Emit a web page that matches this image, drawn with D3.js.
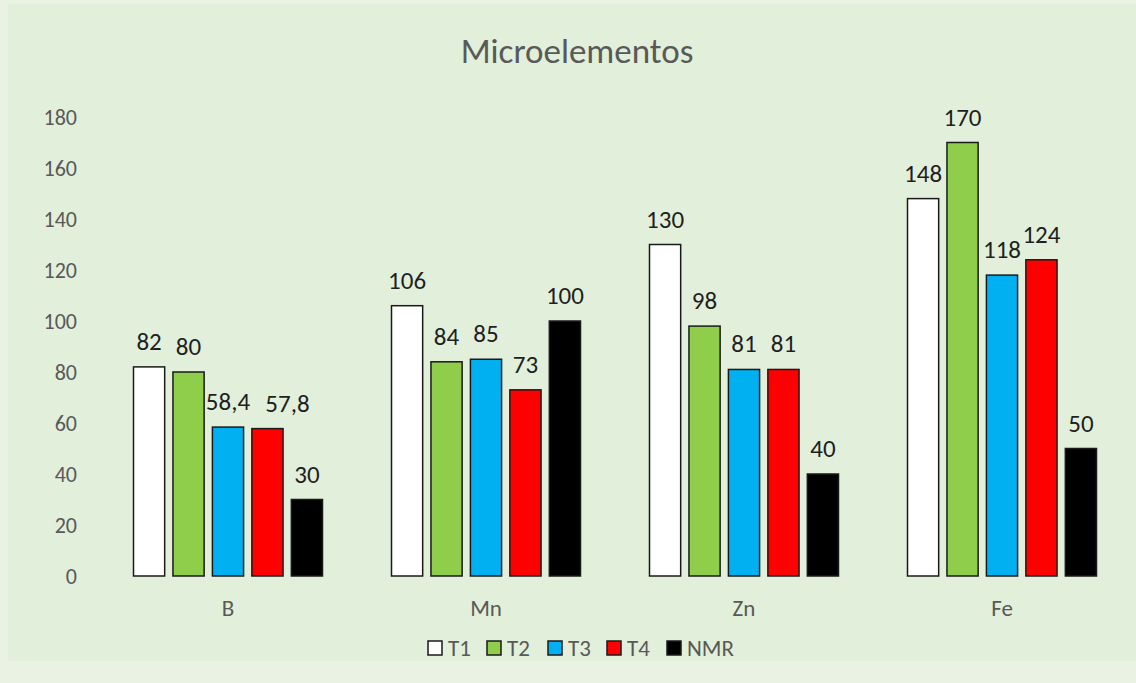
<!DOCTYPE html>
<html><head><meta charset="utf-8">
<script src="https://cdn.jsdelivr.net/npm/d3@7"></script>
<style>
html,body{margin:0;padding:0;background:#eaf3e3;}
svg{display:block;}
</style></head>
<body><svg id="c" width="1136" height="683"></svg>
<script>
const categories = ["B", "Mn", "Zn", "Fe"];
const seriesNames = ["T1", "T2", "T3", "T4", "NMR"];
const T1 = [82, 106, 130, 148];
const T2 = [80, 84, 98, 170];
const T3 = [58.4, 85, 81, 118];
const T4 = [57.8, 73, 81, 124];
const NMR = [30, 100, 40, 50];
const seriesColors = ["#ffffff", "#8fce4a", "#00b0f0", "#ff0000", "#000000"];
const yTicks = [0, 20, 40, 60, 80, 100, 120, 140, 160, 180];
const title = "Microelementos";

const seriesValues = [T1, T2, T3, T4, NMR];
const svg = d3.select("#c");
const W = 1136, H = 683;
const font = "Calibri, Carlito, 'Open Sans', 'Noto Sans', sans-serif";

svg.append("rect").attr("x", 0).attr("y", 0).attr("width", W).attr("height", H).attr("fill", "#eaf3e3");
svg.append("rect").attr("x", 8).attr("y", 4).attr("width", W - 8).attr("height", 657).attr("fill", "#e2efda");

const x0 = d3.scaleBand().domain(categories).range([99, 1131]).paddingInner(0).paddingOuter(0);
const groupW = 189;
const x1 = d3.scaleBand().domain(seriesNames)
  .range([(x0.bandwidth() - groupW) / 2, (x0.bandwidth() + groupW) / 2])
  .paddingInner(0.21).paddingOuter(0);
const y = d3.scaleLinear().domain([0, 180]).range([576, 117]);

// y axis
const yAxis = svg.append("g").attr("transform", "translate(77,0)")
  .call(d3.axisLeft(y).tickValues(yTicks).tickSize(0).tickPadding(0));
yAxis.select(".domain").remove();
yAxis.selectAll("text").attr("font-family", font).attr("font-size", 22).attr("fill", "#595959");

// x axis
const xAxis = svg.append("g").attr("transform", "translate(0,576)")
  .call(d3.axisBottom(x0).tickSize(0).tickPadding(0));
xAxis.select(".domain").remove();
xAxis.selectAll("text").attr("dy", null).attr("y", 40)
  .attr("font-family", font).attr("font-size", 23).attr("fill", "#595959");

// bars
const rows = [];
categories.forEach((c, ci) => seriesNames.forEach((s, si) => rows.push({c, ci, s, si, v: seriesValues[si][ci]})));
const g = svg.append("g");
g.selectAll("rect").data(rows).join("rect")
  .attr("x", d => x0(d.c) + x1(d.s))
  .attr("y", d => y(d.v))
  .attr("width", x1.bandwidth())
  .attr("height", d => y(0) - y(d.v))
  .attr("fill", d => seriesColors[d.si])
  .attr("stroke", "#1a1a1a").attr("stroke-width", 1.5);

// label nudge: the B/T4 label sits right of its bar, as in the reference
const labelDx = d => (d.ci === 0 && d.si === 3) ? 20 : 0;
g.selectAll("text").data(rows).join("text")
  .attr("x", d => x0(d.c) + x1(d.s) + x1.bandwidth() / 2 + labelDx(d))
  .attr("y", d => y(d.v) - 17)
  .attr("text-anchor", "middle")
  .attr("font-family", font).attr("font-size", 25).attr("fill", "#1f1f1f")
  .text(d => String(d.v).replace(".", ","));

// title
svg.append("text").attr("x", 577).attr("y", 63).attr("text-anchor", "middle")
  .attr("font-family", font).attr("font-size", 35).attr("fill", "#595959").text(title);

// legend
const legX = [428, 487, 548, 607, 667];
const leg = svg.append("g");
seriesNames.forEach((s, i) => {
  leg.append("rect").attr("x", legX[i]).attr("y", 641).attr("width", 14).attr("height", 14)
    .attr("fill", seriesColors[i]).attr("stroke", "#1a1a1a").attr("stroke-width", 1.5);
  leg.append("text").attr("x", legX[i] + 20).attr("y", 656)
    .attr("font-family", font).attr("font-size", 23).attr("fill", "#595959").text(s);
});
</script></body></html>
